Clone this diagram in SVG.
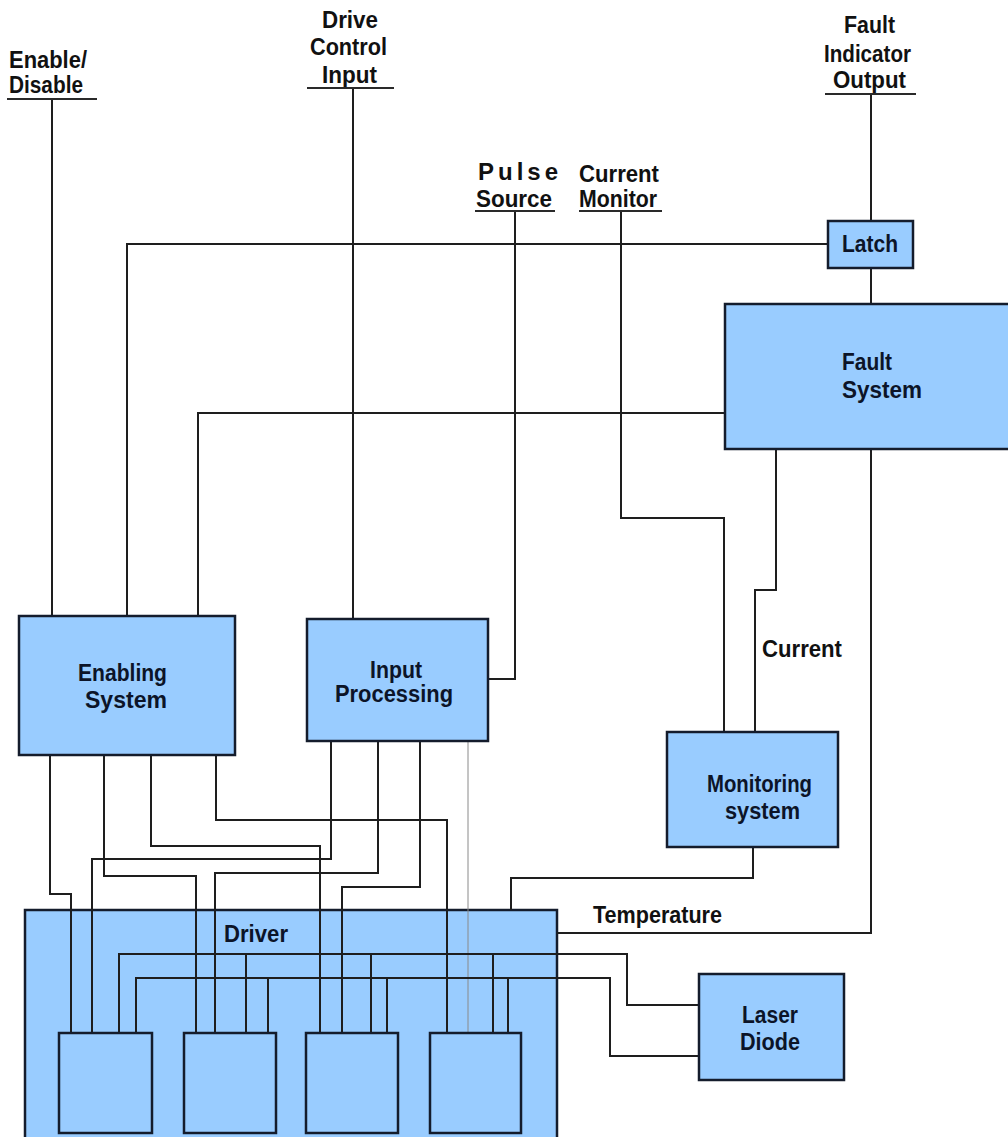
<svg xmlns="http://www.w3.org/2000/svg" width="1008" height="1137" viewBox="0 0 1008 1137">
<style>
.box{fill:#99CCFF;stroke:#141c2c;stroke-width:2.5}
.w{fill:none;stroke:#1e1e1e;stroke-width:2;stroke-linejoin:miter}
.thin{fill:none;stroke:#8a8a8a;stroke-width:1}
.ul{stroke:#2a2a2a;stroke-width:2}
text{font-family:"Liberation Sans",Arial,sans-serif;font-weight:bold;font-size:23px}
.lbl{fill:#0c1428}
.ext{fill:#111}
</style>
<rect width="1008" height="1137" fill="#ffffff"/>

<g id="driver">
<rect class="box" x="25" y="910" width="532" height="240"/>
<text class="lbl" x="224" y="942" textLength="64" lengthAdjust="spacingAndGlyphs">Driver</text>
</g>

<g id="connectors">
<path class="w" d="M52 99 V616"/>
<path class="w" d="M353 88 V619"/>
<path class="w" d="M871 94 V221"/>
<path class="w" d="M871 268 V304"/>
<path class="w" d="M828 244 H127 V616"/>
<path class="w" d="M725 413 H198 V616"/>
<path class="w" d="M515 211 V679 H488"/>
<path class="w" d="M621 211 V518 H724 V732"/>
<path class="w" d="M776 449 V590 H755 V732"/>
<path class="w" d="M871 449 V933 H557"/>
<path class="w" d="M753 847 V878 H511 V910"/>
<path class="w" d="M50 755 V894 H71 V1033"/>
<path class="w" d="M104 755 V876 H196 V1033"/>
<path class="w" d="M151 755 V846 H320 V1033"/>
<path class="w" d="M216 755 V820 H447 V1033"/>
<path class="w" d="M331 741 V859 H92 V1033"/>
<path class="w" d="M378 741 V873 H215 V1033"/>
<path class="w" d="M420 741 V887 H342 V1033"/>
<path class="thin" d="M468 742 V1033"/>
<path class="w" d="M700 1005 H627 V954 H119 V1033"/>
<path class="w" d="M246 953 V1033 M371 954 V1033 M493 954 V1033"/>
<path class="w" d="M700 1056 H610 V978 H136 V1033"/>
<path class="w" d="M268 978 V1033 M387 978 V1033 M508 978 V1033"/>
</g>

<g id="enable-disable">
<text class="ext" x="9" y="68" textLength="78" lengthAdjust="spacingAndGlyphs">Enable/</text>
<text class="ext" x="9" y="93" textLength="74" lengthAdjust="spacingAndGlyphs">Disable</text>
<line class="ul" x1="7" y1="99" x2="97" y2="99"/>
</g>

<g id="drive-control-input">
<text class="ext" x="322" y="28" textLength="56" lengthAdjust="spacingAndGlyphs">Drive</text>
<text class="ext" x="310" y="55" textLength="77" lengthAdjust="spacingAndGlyphs">Control</text>
<text class="ext" x="322" y="83" textLength="55" lengthAdjust="spacingAndGlyphs">Input</text>
<line class="ul" x1="307" y1="88" x2="394" y2="88"/>
</g>

<g id="pulse-source">
<text class="ext" x="478" y="180" textLength="80" lengthAdjust="spacing" style="font-size:24px">Pulse</text>
<text class="ext" x="476" y="207" textLength="76" lengthAdjust="spacingAndGlyphs">Source</text>
<line class="ul" x1="475" y1="211" x2="555" y2="211"/>
</g>

<g id="current-monitor">
<text class="ext" x="579" y="182" textLength="80" lengthAdjust="spacingAndGlyphs">Current</text>
<text class="ext" x="579" y="207" textLength="78" lengthAdjust="spacingAndGlyphs">Monitor</text>
<line class="ul" x1="579" y1="211" x2="662" y2="211"/>
</g>

<g id="fault-indicator-output">
<text class="ext" x="844" y="33" textLength="51" lengthAdjust="spacingAndGlyphs">Fault</text>
<text class="ext" x="824" y="62" textLength="87" lengthAdjust="spacingAndGlyphs">Indicator</text>
<text class="ext" x="833" y="88" textLength="73" lengthAdjust="spacingAndGlyphs">Output</text>
<line class="ul" x1="825" y1="94" x2="916" y2="94"/>
</g>

<g id="latch">
<rect class="box" x="828" y="221" width="85" height="47"/>
<text class="lbl" x="842" y="252" textLength="56" lengthAdjust="spacingAndGlyphs">Latch</text>
</g>

<g id="fault-system">
<rect class="box" x="725" y="304" width="300" height="145"/>
<text class="lbl" x="842" y="370" textLength="50" lengthAdjust="spacingAndGlyphs">Fault</text>
<text class="lbl" x="842" y="398" textLength="80" lengthAdjust="spacingAndGlyphs">System</text>
</g>

<g id="enabling-system">
<rect class="box" x="19" y="616" width="216" height="139"/>
<text class="lbl" x="78" y="681" textLength="89" lengthAdjust="spacingAndGlyphs">Enabling</text>
<text class="lbl" x="85" y="708" textLength="82" lengthAdjust="spacingAndGlyphs">System</text>
</g>

<g id="input-processing">
<rect class="box" x="307" y="619" width="181" height="122"/>
<text class="lbl" x="370" y="678" textLength="52" lengthAdjust="spacingAndGlyphs">Input</text>
<text class="lbl" x="335" y="702" textLength="118" lengthAdjust="spacingAndGlyphs">Processing</text>
</g>

<g id="monitoring-system">
<rect class="box" x="667" y="732" width="171" height="115"/>
<text class="lbl" x="707" y="792" textLength="105" lengthAdjust="spacingAndGlyphs">Monitoring</text>
<text class="lbl" x="725" y="819" textLength="75" lengthAdjust="spacingAndGlyphs">system</text>
</g>

<g id="laser-diode">
<rect class="box" x="699" y="974" width="145" height="106"/>
<text class="lbl" x="742" y="1023" textLength="56" lengthAdjust="spacingAndGlyphs">Laser</text>
<text class="lbl" x="740" y="1050" textLength="60" lengthAdjust="spacingAndGlyphs">Diode</text>
</g>

<g id="channel-1"><rect class="box" x="59" y="1033" width="93" height="100"/></g>
<g id="channel-2"><rect class="box" x="184" y="1033" width="92" height="100"/></g>
<g id="channel-3"><rect class="box" x="306" y="1033" width="92" height="100"/></g>
<g id="channel-4"><rect class="box" x="430" y="1033" width="91" height="100"/></g>

<g id="labels">
<text class="ext" x="762" y="657" textLength="80" lengthAdjust="spacingAndGlyphs">Current</text>
<text class="ext" x="593" y="923" textLength="129" lengthAdjust="spacingAndGlyphs">Temperature</text>
</g>
</svg>
